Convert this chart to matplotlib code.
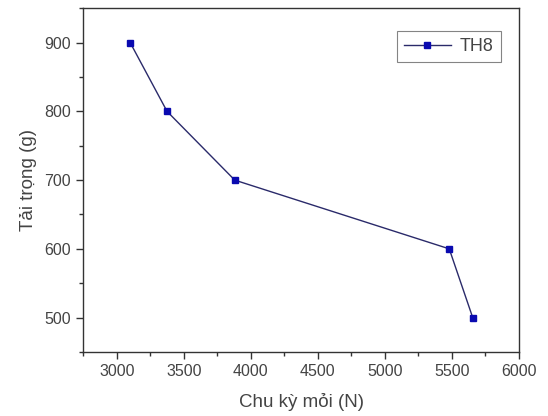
import matplotlib
matplotlib.use("Agg")
import matplotlib.pyplot as plt
from matplotlib.ticker import MultipleLocator

plt.rcParams['font.family'] = ['Liberation Sans', 'DejaVu Sans']

cycles = [3100, 3375, 3880, 5480, 5655]
loads = [900, 800, 700, 600, 500]
series_name = "TH8"
x_ticks = [3000, 3500, 4000, 4500, 5000, 5500, 6000]
y_ticks = [500, 600, 700, 800, 900]

fig = plt.figure(figsize=(5.48, 4.16), dpi=100)
ax = fig.add_axes([0.152, 0.154, 0.795, 0.826])

ax.plot(cycles, loads, color='#2a2a6a', linewidth=1.0, marker='s',
        markersize=4.8, markerfacecolor='#0a0ab0', markeredgecolor='#0a0ab0',
        label=series_name)

ax.set_xlim(2750, 6000)
ax.set_ylim(450, 950)
ax.set_xticks(x_ticks)
ax.set_yticks(y_ticks)
ax.xaxis.set_minor_locator(MultipleLocator(250))
ax.yaxis.set_minor_locator(MultipleLocator(50))
ax.tick_params(which='major', direction='out', length=5, width=1, labelsize=11.5,
               colors='#333333', labelcolor='#444444', pad=4)
ax.tick_params(which='minor', direction='out', length=3, width=1, colors='#333333')
ax.tick_params(top=False, right=False, which='both')
for s in ax.spines.values():
    s.set_color('#333333')
    s.set_linewidth(1.0)

ax.set_xlabel("Chu kỳ mỏi (N)", fontsize=13.5, color='#444444', labelpad=10)
ax.set_ylabel("Tải trọng (g)", fontsize=13.5, color='#444444', labelpad=5)

leg = ax.legend(loc='upper right', bbox_to_anchor=(501 / 548, 1 - 31 / 416),
                bbox_transform=fig.transFigure, borderaxespad=0, frameon=True,
                fancybox=False, fontsize=13, handlelength=2.6, borderpad=0.4,
                handletextpad=0.5)
leg.get_frame().set_edgecolor('#666666')
leg.get_frame().set_linewidth(0.8)
for t in leg.get_texts():
    t.set_color('#444444')

fig.savefig("out.png", dpi=100)
